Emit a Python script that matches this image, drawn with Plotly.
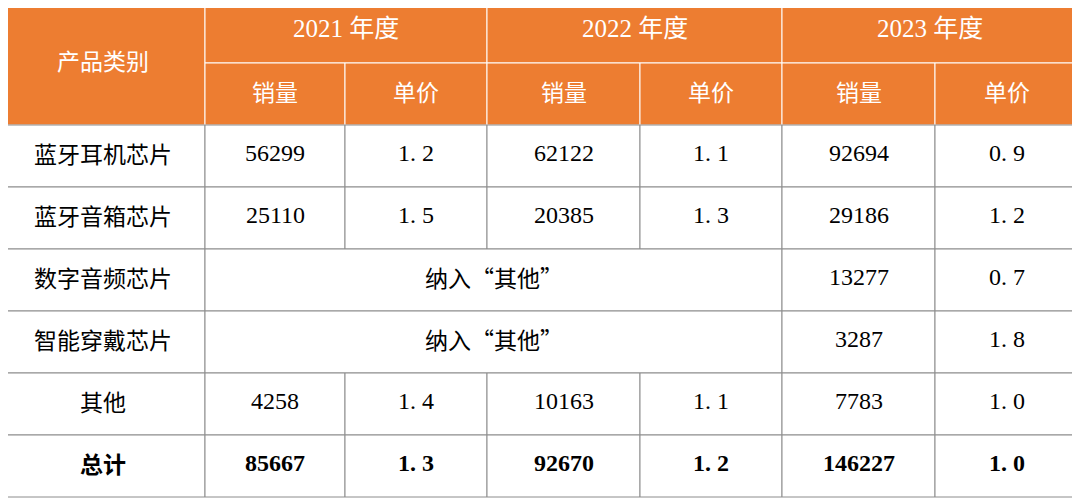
import plotly.graph_objects as go

categories = ["蓝牙耳机芯片", "蓝牙音箱芯片", "数字音频芯片", "智能穿戴芯片", "其他", "总计"]
years = ["2021 年度", "2022 年度", "2023 年度"]
sub_headers = ["销量", "单价"]
sales_2021 = ["56299", "25110", None, None, "4258", "85667"]
price_2021 = ["1.2", "1.5", None, None, "1.4", "1.3"]
sales_2022 = ["62122", "20385", None, None, "10163", "92670"]
price_2022 = ["1.1", "1.3", None, None, "1.1", "1.2"]
sales_2023 = ["92694", "29186", "13277", "3287", "7783", "146227"]
price_2023 = ["0.9", "1.2", "0.7", "1.8", "1.0", "1.0"]
merged_text = "纳入“其他”"

col_x = [0, 205, 345, 487, 640, 782, 935, 1078]
row_y = [0, 63, 125, 187, 249, 311, 373, 435, 497]
ORANGE = "#ED7D31"
GRID = "#8c8c8c"
CJK = "Noto Sans CJK SC"
NUM = "Liberation Serif"

fig = go.Figure()
shapes, ann = [], []

def cell(c0, c1, r0, r1, text, fill, line, color, font, bold=False, size=23):
    shapes.append(dict(type="rect", x0=col_x[c0], x1=col_x[c1], y0=row_y[r0], y1=row_y[r1],
                       fillcolor=fill, line=dict(color=line, width=1), layer="below"))
    if text is not None:
        t = f"<b>{text}</b>" if bold else text
        ann.append(dict(x=(col_x[c0] + col_x[c1]) / 2, y=(row_y[r0] + row_y[r1]) / 2 - 3,
                        text=t, showarrow=False, xref="x", yref="y",
                        font=dict(family=font, size=size, color=color)))

# header
cell(0, 1, 0, 2, "产品类别", ORANGE, "white", "white", CJK)
for i, y in enumerate(years):
    cell(1 + 2 * i, 3 + 2 * i, 0, 1, y, ORANGE, "white", "white", NUM + ", " + CJK, size=25)
    for j, s in enumerate(sub_headers):
        cell(1 + 2 * i + j, 2 + 2 * i + j, 1, 2, s, ORANGE, "white", "white", CJK)

cols = [sales_2021, price_2021, sales_2022, price_2022, sales_2023, price_2023]
for r, cat in enumerate(categories):
    rr = r + 2
    bold = cat == "总计"
    cell(0, 1, rr, rr + 1, cat, "white", GRID, "black", CJK, bold)
    if sales_2021[r] is None:
        cell(1, 5, rr, rr + 1, merged_text, "white", GRID, "black", CJK)
        start = 4
    else:
        start = 0
    for c in range(start, 6):
        v = cols[c][r]
        txt = v if c % 2 == 0 else v.replace(".", ". ")
        cell(c + 1, c + 2, rr, rr + 1, txt, "white", GRID, "black", NUM, bold, 24)

fig.update_layout(width=1072, height=492, margin=dict(l=0, r=0, t=0, b=0),
                  plot_bgcolor="white", paper_bgcolor="white",
                  shapes=shapes, annotations=ann,
                  xaxis=dict(range=[8, 1080], visible=False, fixedrange=True),
                  yaxis=dict(range=[500, 8], visible=False, fixedrange=True),
                  showlegend=False)
fig.write_html("out.html", config={"displayModeBar": False})
